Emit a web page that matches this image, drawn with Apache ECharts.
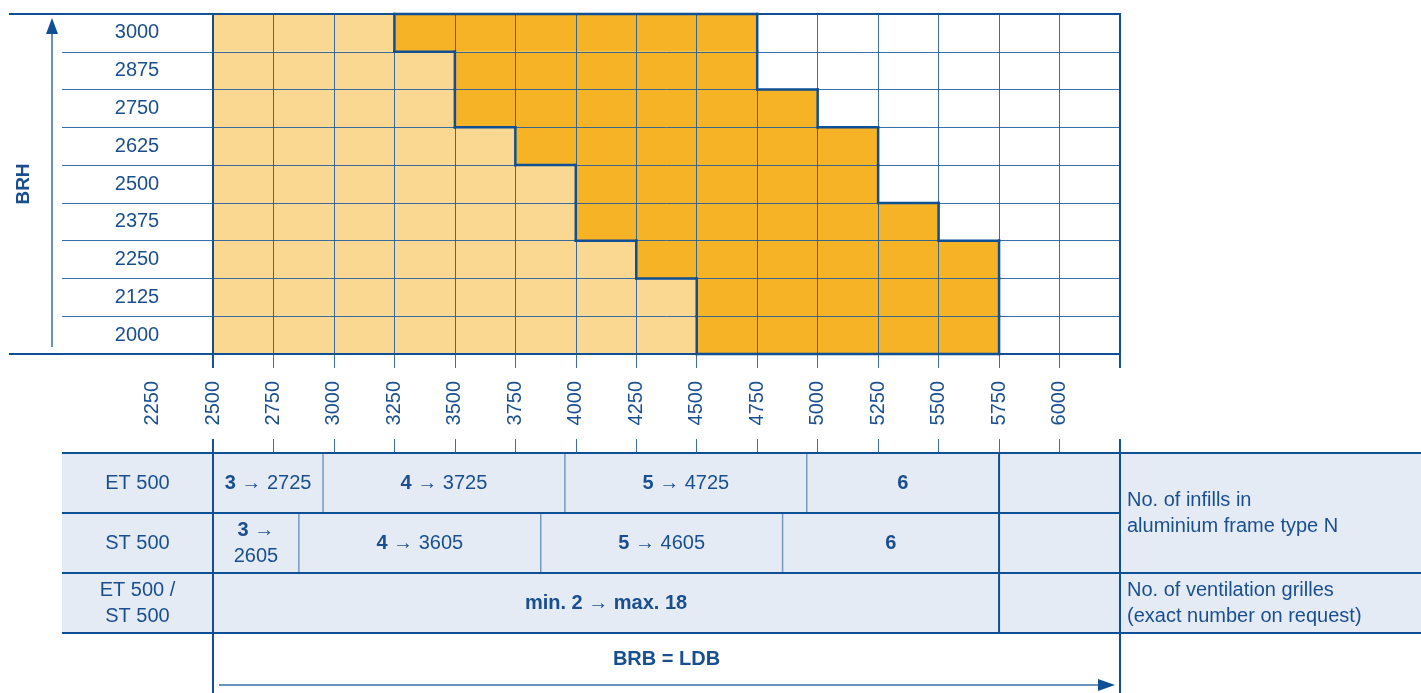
<!DOCTYPE html>
<html>
<head>
<meta charset="utf-8">
<title>BRH / BRB</title>
<script src="https://cdn.jsdelivr.net/npm/echarts@6/dist/echarts.min.js"></script>
<style>
  html, body { margin: 0; padding: 0; background: #fff; }
  #chart { width: 1421px; height: 693px; }
</style>
</head>
<body>
<div id="chart"></div>
<script>
// door height rows (BRH), bottom to top
const heights = ['2000', '2125', '2250', '2375', '2500', '2625', '2750', '2875', '3000'];
// per row: where the light zone ends and where the dark zone ends (BRB)
const lightEnd = [4500, 4500, 4250, 4000, 4000, 3750, 3500, 3500, 3250];
const darkEnd = [5750, 5750, 5750, 5500, 5250, 5250, 5000, 4750, 4750];
const widthStart = 2500;
const widthLabels = ['2250', '2500', '2750', '3000', '3250', '3500', '3750', '4000',
  '4250', '4500', '4750', '5000', '5250', '5500', '5750', '6000'];

// table below the chart: number of infills, end of each range on the width scale
const et500 = [
  { n: '3', to: '2725', end: 2955 },
  { n: '4', to: '3725', end: 3955 },
  { n: '5', to: '4725', end: 4955 },
  { n: '6', to: '', end: 5750 }
];
const st500 = [
  { n: '3', to: '2605', end: 2855 },
  { n: '4', to: '3605', end: 3855 },
  { n: '5', to: '4605', end: 4855 },
  { n: '6', to: '', end: 5750 }
];
const grilles = 'min. 2 \u2192 max. 18';

const BLUE = '#0e4f95';
const GRID = 'rgba(24, 88, 158, 0.85)';
const TEXT = '#1a4f8f';
const LIGHT = '#fad892';
const DARK = '#f6b325';
const TABLE_BG = '#e4ebf4';
const DIVIDER = '#7499c4';
const FONT = '"Liberation Sans", Arial, Helvetica, sans-serif';

const chart = echarts.init(document.getElementById('chart'));

function renderFill(params, api) {
  const row = api.value(0);
  const h = api.size([0, 1])[1];
  const a = api.coord([widthStart, row]);
  const b = api.coord([api.value(1), row]);
  const c = api.coord([api.value(2), row]);
  const top = a[1] - h / 2;
  return {
    type: 'group',
    children: [
      { type: 'rect', shape: { x: a[0], y: top, width: b[0] - a[0], height: h }, style: { fill: LIGHT } },
      { type: 'rect', shape: { x: b[0], y: top, width: c[0] - b[0], height: h }, style: { fill: DARK } }
    ]
  };
}

// staircase outline around the dark zone
function renderEdge(params, api) {
  const row = api.value(0);
  const h = api.size([0, 1])[1];
  const pl = api.coord([api.value(1), row]);
  const pd = api.coord([api.value(2), row]);
  const top = pl[1] - h / 2, bot = pl[1] + h / 2;
  const segs = [[pl[0], top, pl[0], bot], [pd[0], top, pd[0], bot]];
  const up = row + 1;
  if (up < heights.length) {
    const ul = api.coord([lightEnd[up], row])[0];
    const ud = api.coord([darkEnd[up], row])[0];
    if (ul !== pl[0]) segs.push([Math.min(ul, pl[0]), top, Math.max(ul, pl[0]), top]);
    if (ud !== pd[0]) segs.push([Math.min(ud, pd[0]), top, Math.max(ud, pd[0]), top]);
  } else {
    segs.push([pl[0], top, pd[0], top]);
  }
  if (row === 0) segs.push([pl[0], bot, pd[0], bot]);
  return {
    type: 'group',
    children: segs.map(s => ({
      type: 'line',
      shape: { x1: s[0], y1: s[1], x2: s[2], y2: s[3] },
      style: { stroke: BLUE, lineWidth: 2.5, lineCap: 'square' }
    }))
  };
}

const rows = heights.map((hgt, i) => [i, lightEnd[i], darkEnd[i]]);

const option = {
  animation: false,
  grid: { left: 213, right: 301, top: 14, bottom: 339, containLabel: false, outerBoundsMode: 'none' },
  xAxis: [
    {
      type: 'value', min: 2500, max: 6250, interval: 250, z: 5,
      axisLine: { show: true, onZero: false, lineStyle: { color: BLUE, width: 2 } },
      axisTick: { show: true, length: 14, lineStyle: { color: GRID, width: 1 } },
      axisLabel: {
        rotate: 90, margin: 27, fontSize: 20, color: TEXT, fontFamily: FONT,
        showMinLabel: true, showMaxLabel: true,
        formatter: v => (widthLabels.indexOf(String(v)) >= 0 ? String(v) : '')
      },
      splitLine: { show: true, lineStyle: { color: GRID, width: 1 } }
    },
    {
      type: 'value', position: 'top', min: 2500, max: 6250, z: 5,
      axisLine: { show: true, onZero: false, lineStyle: { color: BLUE, width: 2 } },
      axisTick: { show: false }, axisLabel: { show: false }, splitLine: { show: false }
    },
    {
      // ticks on top of the table
      type: 'value', position: 'bottom', offset: 99, min: 2500, max: 6250, interval: 250, z: 5,
      axisLine: { show: false, onZero: false },
      axisTick: { show: true, inside: true, length: 14, lineStyle: { color: GRID, width: 1 } },
      axisLabel: { show: false }, splitLine: { show: false }
    }
  ],
  yAxis: [
    {
      type: 'category', data: heights, z: 5,
      axisLine: { show: true, onZero: false, lineStyle: { color: BLUE, width: 2 } },
      axisTick: { show: true, length: 151, interval: 0, lineStyle: { color: GRID, width: 1 } },
      axisLabel: { interval: 0, margin: 76, align: 'center', fontSize: 20, color: TEXT, fontFamily: FONT },
      splitLine: { show: true, interval: 0, lineStyle: { color: GRID, width: 1 } },
      name: 'BRH', nameLocation: 'middle', nameGap: 180, nameRotate: 90,
      nameTextStyle: { fontSize: 19, fontWeight: 'bold', color: TEXT, fontFamily: FONT }
    },
    {
      type: 'value', position: 'right', min: 0, max: 1, z: 5,
      axisLine: { show: true, onZero: false, lineStyle: { color: BLUE, width: 2 } },
      axisTick: { show: false }, axisLabel: { show: false }, splitLine: { show: false }
    }
  ],
  series: [
    {
      type: 'custom', name: 'fill', z: 1, xAxisIndex: 0, yAxisIndex: 0,
      encode: { x: [1, 2], y: 0 }, renderItem: renderFill, data: rows, silent: true
    },
    {
      type: 'custom', name: 'edge', z: 10, xAxisIndex: 0, yAxisIndex: 0,
      encode: { x: [1, 2], y: 0 }, renderItem: renderEdge, data: rows, silent: true
    }
  ]
};
chart.setOption(option);

// table + decorations placed on the x scale
const px = v => chart.convertToPixel({ xAxisIndex: 0 }, v);
const x0 = px(2500), x1 = px(5750), x2 = px(6250);
const axisY = 354, tableTop = 453, rowH = 60;
const colLeft = x0 - 151, pageRight = 1421;
const g = [];

function line(a, b, c, d, color, w, z2) {
  g.push({ type: 'line', z2: z2 || 2, shape: { x1: a, y1: b, x2: c, y2: d }, style: { stroke: color, lineWidth: w } });
}
const rich = {
  b: { fontWeight: 'bold', fontSize: 20, fontFamily: FONT, fill: TEXT, lineHeight: 26 },
  n: { fontSize: 20, fontFamily: FONT, fill: TEXT, lineHeight: 26 }
};
function text(str, x, y, opts) {
  g.push(Object.assign({
    type: 'text', z2: 3, x: x, y: y,
    style: Object.assign({
      text: str, fill: TEXT, fontSize: 20, fontFamily: FONT, align: 'center',
      verticalAlign: 'middle', lineHeight: 26, rich: rich
    }, (opts && opts.style) || {})
  }, (opts && opts.el) || {}));
}

// table background and frame
g.push({ type: 'rect', z2: 0, shape: { x: colLeft, y: tableTop, width: pageRight - colLeft, height: rowH * 3 }, style: { fill: TABLE_BG } });
for (let r = 0; r <= 3; r++) {
  // the description column spans the two infill rows
  const right = r === 1 ? x2 : pageRight;
  line(colLeft, tableTop + r * rowH, right, tableTop + r * rowH, BLUE, 2);
}
line(x0, tableTop, x0, 693, BLUE, 2);
line(x1, tableTop, x1, tableTop + rowH * 3, BLUE, 2);
line(x2, tableTop, x2, 693, BLUE, 2);

// chart frame extensions to the left
line(9, 14, x0, 14, BLUE, 2);
line(9, axisY, x0, axisY, BLUE, 2);
line(x0, axisY, x0, axisY + 14, BLUE, 2);
line(x2, axisY, x2, axisY + 14, BLUE, 2);
line(x0, tableTop - 14, x0, tableTop, BLUE, 2);
line(x2, tableTop - 14, x2, tableTop, BLUE, 2);

function segRow(list, r, twoLineFirst) {
  let start = 2500;
  const cy = tableTop + r * rowH + rowH / 2;
  list.forEach((s, i) => {
    const a = px(start), b = px(s.end);
    if (i < list.length - 1) line(b, tableTop + r * rowH, b, tableTop + (r + 1) * rowH, DIVIDER, 1.5, 1);
    let str = '{b|' + s.n + '}';
    if (s.to) str += (twoLineFirst && i === 0) ? '{n| \u2192}\n{n|' + s.to + '}' : '{n| \u2192 ' + s.to + '}';
    text(str, (a + b) / 2, cy);
    start = s.end;
  });
}
text('ET 500', (colLeft + x0) / 2, tableTop + rowH / 2);
text('ST 500', (colLeft + x0) / 2, tableTop + rowH * 1.5);
text('ET 500 /\nST 500', (colLeft + x0) / 2, tableTop + rowH * 2.5);
segRow(et500, 0, false);
segRow(st500, 1, true);
text('{b|' + grilles + '}', (x0 + x1) / 2, tableTop + rowH * 2.5);
text('No. of infills in\naluminium frame type N', x2 + 7, tableTop + rowH, { style: { align: 'left' } });
text('No. of ventilation grilles\n(exact number on request)', x2 + 7, tableTop + rowH * 2.5, { style: { align: 'left' } });

// BRB = LDB with arrow
text('{b|BRB = LDB}', (x0 + x2) / 2, 659);
line(x0 + 6, 685, x2 - 18, 685, '#6b93c2', 2);
g.push({ type: 'polygon', z2: 3, shape: { points: [[x2 - 5, 685], [x2 - 22, 679], [x2 - 22, 691]] }, style: { fill: BLUE } });

// BRH arrow
line(52, 347, 52, 30, '#6b93c2', 2);
g.push({ type: 'polygon', z2: 3, shape: { points: [[52, 18], [46, 34], [58, 34]] }, style: { fill: BLUE } });

// first width label sits left of the grid
text('2250', px(2250), axisY + 27, { el: { rotation: Math.PI / 2 }, style: { align: 'right' } });

chart.setOption({ graphic: { elements: g } });

window.addEventListener('resize', () => {
  chart.resize();
});
</script>
</body>
</html>
